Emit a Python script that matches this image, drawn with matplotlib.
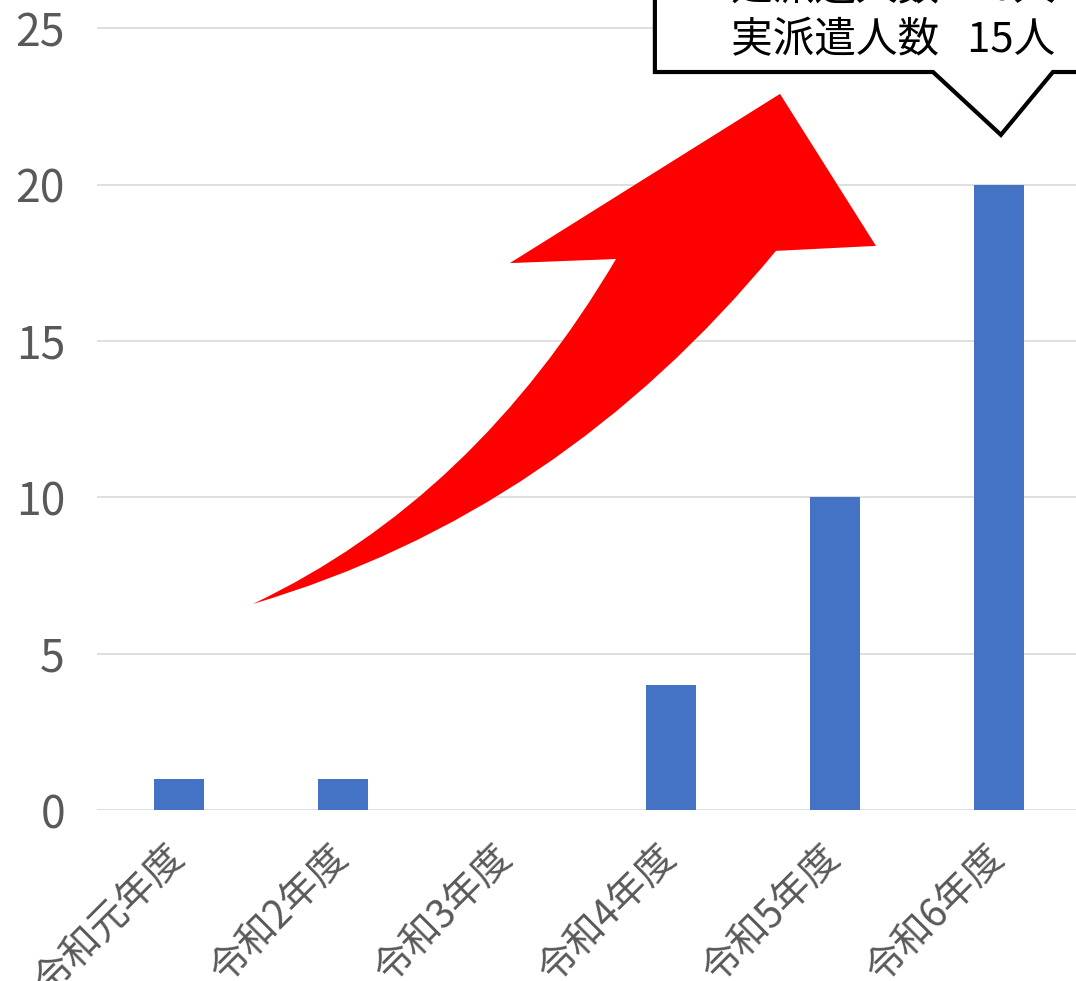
import matplotlib
matplotlib.use("Agg")
import matplotlib.pyplot as plt
from matplotlib.path import Path
from matplotlib.patches import PathPatch, Polygon

plt.rcParams["font.family"] = ["Noto Sans CJK JP", "DejaVu Sans"]

years = ["令和元年度", "令和2年度", "令和3年度", "令和4年度", "令和5年度", "令和6年度"]
counts = [1, 1, 0, 4, 10, 20]
y_ticks = [0, 5, 10, 15, 20, 25]
callout_lines = ["延派遣人数   20人", "実派遣人数   15人"]

bar_color = "#4472C4"
grid_color = "#D9D9D9"
text_color = "#595959"

fig = plt.figure(figsize=(10.76, 9.81), dpi=100)
ax = fig.add_axes([0.0901, 0.1743, 0.9145, 0.8288])

x = list(range(len(years)))
ax.bar(x, counts, width=0.31, color=bar_color, zorder=2)

ax.set_xlim(-0.5, len(years) - 0.5)
ax.set_ylim(0, 26)
ax.set_yticks(y_ticks)
ax.set_xticks(x)
ax.set_xticklabels(years, rotation=45, ha="right", va="center", rotation_mode="anchor")
ax.tick_params(axis="y", length=0, pad=23, labelsize=32, labelcolor=text_color)
ax.tick_params(axis="x", length=0, pad=30, labelsize=28, labelcolor=text_color)
ax.yaxis.grid(True, color=grid_color, linewidth=1.2, zorder=0)
ax.set_axisbelow(True)
for s in ax.spines.values():
    s.set_visible(False)

# big red curved arrow (decoration)
verts = [
    (0.451, 6.59),
    (1.802, 9.95), (2.665, 17.62),
    (2.018, 17.49),
    (3.665, 22.90),
    (4.250, 18.04),
    (3.640, 17.88),
    (2.321, 9.48), (0.451, 6.59),
    (0.451, 6.59),
]
codes = [Path.MOVETO, Path.CURVE3, Path.CURVE3, Path.LINETO, Path.LINETO,
         Path.LINETO, Path.LINETO, Path.CURVE3, Path.CURVE3, Path.CLOSEPOLY]
ax.add_patch(PathPatch(Path(verts, codes), facecolor="#FF0000", edgecolor="none",
                       zorder=3, clip_on=False))

# callout box
box = [(2.902, 28), (2.902, 23.60), (4.598, 23.60), (5.012, 21.59),
       (5.329, 23.60), (6.2, 23.60), (6.2, 28)]
ax.add_patch(Polygon(box, closed=True, facecolor="white", edgecolor="black",
                     linewidth=3, zorder=4, clip_on=False, joinstyle="miter"))
ax.text(4.354, 26.25, callout_lines[0], ha="center", va="center", fontsize=30,
        color="black", zorder=5, clip_on=False)
ax.text(4.354, 24.59, callout_lines[1], ha="center", va="center", fontsize=30,
        color="black", zorder=5, clip_on=False)

fig.savefig("out.png", dpi=100)
